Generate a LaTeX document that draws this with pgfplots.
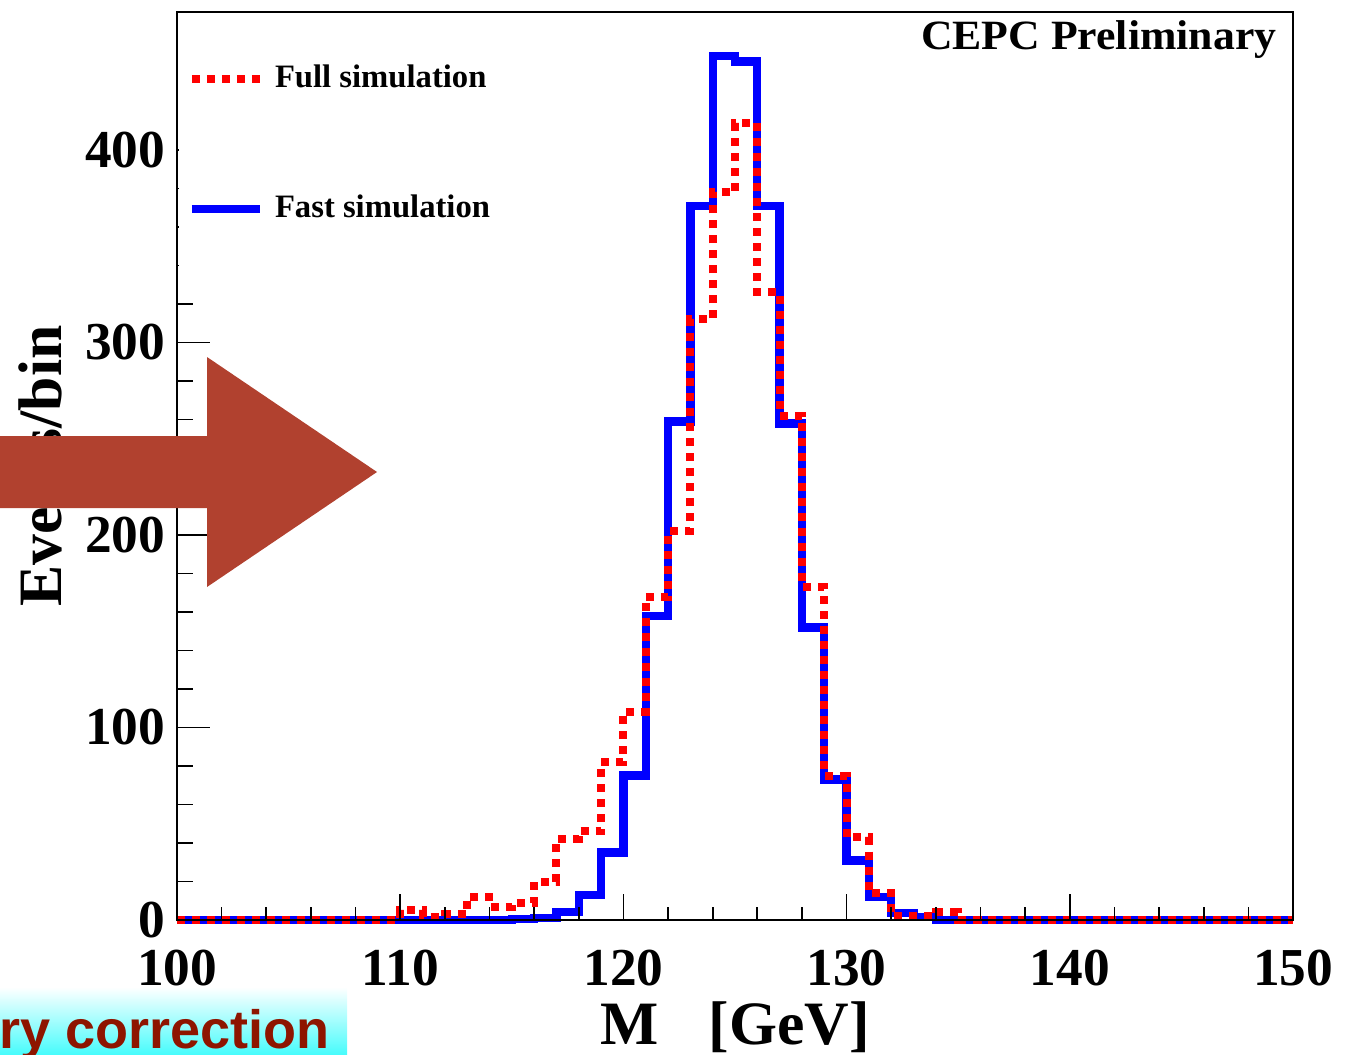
\documentclass[border=0pt]{standalone}
\usepackage{fontspec}
\setmainfont{Liberation Serif}
\newfontfamily\sansb{Liberation Sans}
\usepackage{graphicx}
\usepackage{pgfplots}
\usepackage{pgfplotstable}
\pgfplotsset{compat=1.18}
\usetikzlibrary{shadings}

\definecolor{arrowred}{HTML}{B1412F}
\definecolor{corrred}{HTML}{8E1500}
\definecolor{boxcyan}{HTML}{46FCFC}

% bin left edge, full sim, fast sim (1 GeV bins)
\pgfplotstableread{
x   full  fast
100 0     0
101 0     0
102 0     0
103 0     0
104 0     0
105 0     0
106 0     0
107 0     0
108 0     0
109 0     0
110 5     0
111 1.5   0
112 3     0
113 12    0
114 7     0
115 9     0.5
116 20    1
117 42    4
118 46    13
119 82    35
120 108   75
121 168   158
122 202   259
123 312   371
124 378   449
125 414   446
126 326   371
127 262   258
128 173   152
129 75    73
130 43    31
131 14    12
132 2     3.5
133 2     1.5
134 4     0
135 0     0
136 0     0
137 0     0
138 0     0
139 0     0
140 0     0
141 0     0
142 0     0
143 0     0
144 0     0
145 0     0
146 0     0
147 0     0
148 0     0
149 0     0
150 0     0
}\histdata

\begin{document}
\begin{tikzpicture}
\begin{axis}[
  name=ax, at={(0,0)}, anchor=south west,
  scale only axis, width=334.8pt, height=272.4pt,
  xmin=100, xmax=150, ymin=0, ymax=471.7,
  xtick={100,110,...,150}, ytick={0,100,...,400},
  minor x tick num=4, minor y tick num=4,
  tick pos=left, tick align=inside,
  axis line style={line width=0.5pt},
  every tick/.style={black, line width=0.5pt},
  major tick length=10pt, minor tick length=4.8pt,
  xtick style={/pgfplots/major tick length=7.8pt, /pgfplots/minor tick length=3.9pt},
  clip=false, axis on top,
  /pgf/number format/assume math mode=true,
  ticklabel style={font=\fontsize{16}{18}\selectfont\bfseries},
  xticklabel style={anchor=base, yshift=-19.5pt},
  xlabel={M\hspace{15pt}[GeV]},
  ylabel={Events/bin},
  every axis x label/.style={at={(axis description cs:0.5,0)}, anchor=base, yshift=-37.2pt,
    font=\fontsize{18.5}{20}\selectfont\bfseries},
  every axis y label/.style={at={(axis description cs:0,0.5)}, xshift=-34.5pt, rotate=90, anchor=base,
    font=\fontsize{18.5}{20}\selectfont\bfseries},
  reverse legend,
  legend cell align=left,
  legend image code/.code={\draw[#1] (0pt,0pt) -- (20.4pt,0pt);},
  legend style={at={(0,1)}, anchor=north west, xshift=0.3pt, yshift=-0.3pt,
    draw=none, fill=white, inner xsep=2.7pt, inner ysep=13.35pt, row sep=26.7pt,
    font=\fontsize{9.8}{12}\selectfont\bfseries,
    /tikz/every odd column/.append style={column sep=1.3pt}},
]
\addplot[const plot, color=blue, line width=2.5pt] table[x=x, y=fast] {\histdata};
\addlegendentry{Fast simulation}
\addplot[const plot, color=red, line width=2.4pt, dash pattern=on 2.4pt off 2.1pt] table[x=x, y=full] {\histdata};
\addlegendentry{Full simulation}
\node[anchor=base east, inner sep=0pt, xshift=-4.8pt, yshift=-11.4pt,
  font=\fontsize{12.5}{14}\selectfont\bfseries] at (rel axis cs:1,1) {\scalebox{1.05}[1]{CEPC Preliminary}};
\end{axis}
\begin{scope}[shift={(ax.south west)}]
  \fill[arrowred] (-60pt,123.6pt) -- (9pt,123.6pt) -- (9pt,99.9pt) -- (60pt,134.4pt)
    -- (9pt,168.9pt) -- (9pt,145.2pt) -- (-60pt,145.2pt) -- cycle;
  \shade[top color=white, bottom color=boxcyan] (-60pt,-20.1pt) rectangle (51pt,-40.5pt);
  \node[anchor=base east, inner sep=0pt, text=corrred,
    font=\sansb\bfseries\fontsize{16.2}{18}\selectfont] at (45.9pt,-38.4pt) {ry correction};
\end{scope}
\pgfresetboundingbox
\path[use as bounding box] ([shift={(-53.1pt,-40.2pt)}]ax.south west) rectangle ([shift={(22.2pt,3.6pt)}]ax.north east);
\end{tikzpicture}
\end{document}
